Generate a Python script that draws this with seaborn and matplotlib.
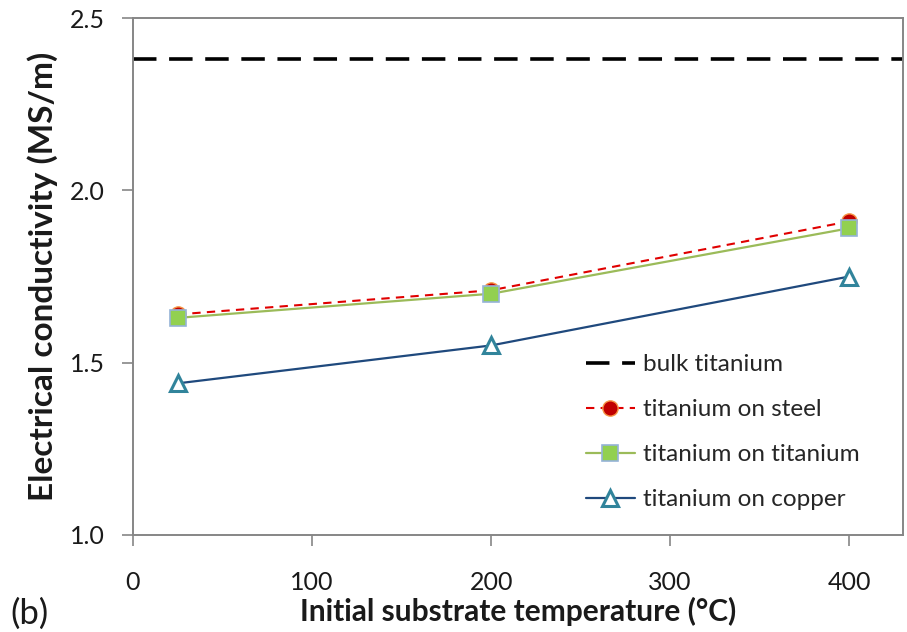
import matplotlib
matplotlib.use("Agg")
import matplotlib.pyplot as plt
import seaborn as sns
import pandas as pd
from matplotlib.lines import Line2D

temps = [25, 200, 400]
steel = [1.64, 1.71, 1.91]
titanium = [1.63, 1.70, 1.89]
copper = [1.44, 1.55, 1.75]
bulk = 2.38
labels = ["bulk titanium", "titanium on steel", "titanium on titanium", "titanium on copper"]
xticks = [0, 100, 200, 300, 400]
yticks = [1.0, 1.5, 2.0, 2.5]

sns.set_theme(style="white")
plt.rcParams["font.family"] = ["Lato", "DejaVu Sans"]

fig = plt.figure(figsize=(9.07, 6.32), dpi=100)
ax = fig.add_axes([133/907, 1-535/632, (903-133)/907, (535-18)/632])

df = pd.DataFrame({"T": temps * 3,
                   "sigma": steel + titanium + copper,
                   "series": [labels[1]]*3 + [labels[2]]*3 + [labels[3]]*3})

ax.axhline(bulk, color="black", lw=2.6, dashes=(6.5, 3.5), zorder=1)

sns.lineplot(data=df[df.series == labels[3]], x="T", y="sigma", ax=ax,
             color="#1F497D", lw=1.6, marker="^", markersize=12,
             markerfacecolor="white", markeredgecolor="#31849B", markeredgewidth=2.2, zorder=2)
sns.lineplot(data=df[df.series == labels[1]], x="T", y="sigma", ax=ax,
             color="#E00000", lw=1.5, dashes=(4, 3), marker="o", markersize=11,
             markerfacecolor="#C00000", markeredgecolor="#F79646", markeredgewidth=1.0, zorder=3)
sns.lineplot(data=df[df.series == labels[2]], x="T", y="sigma", ax=ax,
             color="#9BBB59", lw=1.6, marker="s", markersize=11,
             markerfacecolor="#92D050", markeredgecolor="#95B3D7", markeredgewidth=1.2, zorder=4)

ax.set_xlim(0, 430)
ax.set_ylim(1.0, 2.5)
ax.set_xticks(xticks)
ax.set_yticks(yticks)
ax.set_xticklabels([str(v) for v in xticks])
ax.set_yticklabels([f"{v:.1f}" for v in yticks])

for s in ax.spines.values():
    s.set_color("#868686")
    s.set_linewidth(1.4)
    s.set_visible(True)
ax.tick_params(axis="both", which="major", direction="out", length=8, width=1.2,
               color="#868686", labelsize=18, labelcolor="#1a1a1a", left=True, bottom=True)
ax.tick_params(axis="y", pad=12)
ax.tick_params(axis="x", pad=18)

ax.set_xlabel("Initial substrate temperature (°C)", fontsize=21.5, fontweight="bold",
              color="#1a1a1a", labelpad=2)
ax.set_ylabel("Electrical conductivity (MS/m)", fontsize=24, fontweight="bold",
              color="#1a1a1a", labelpad=9)

handles = [
    Line2D([], [], color="black", lw=2.6, dashes=(6.5, 3.5)),
    Line2D([], [], color="#E00000", lw=1.5, dashes=(4, 3), marker="o", markersize=11,
           markerfacecolor="#C00000", markeredgecolor="#F79646", markeredgewidth=1.0),
    Line2D([], [], color="#9BBB59", lw=1.6, marker="s", markersize=11,
           markerfacecolor="#92D050", markeredgecolor="#95B3D7", markeredgewidth=1.2),
    Line2D([], [], color="#1F497D", lw=1.6, marker="^", markersize=12,
           markerfacecolor="white", markeredgecolor="#31849B", markeredgewidth=2.2),
]
ax.legend(handles, labels, loc="upper left", bbox_to_anchor=(586/907, 1-354/632),
          bbox_transform=fig.transFigure, frameon=False, fontsize=17.5,
          borderaxespad=0, borderpad=0,
          handlelength=2.0, handletextpad=0.35, labelspacing=0.99)

fig.text(10/907, 1-630/632, "(b)", fontsize=25, color="#1a1a1a", ha="left", va="bottom")

fig.savefig("out.png", dpi=100)
